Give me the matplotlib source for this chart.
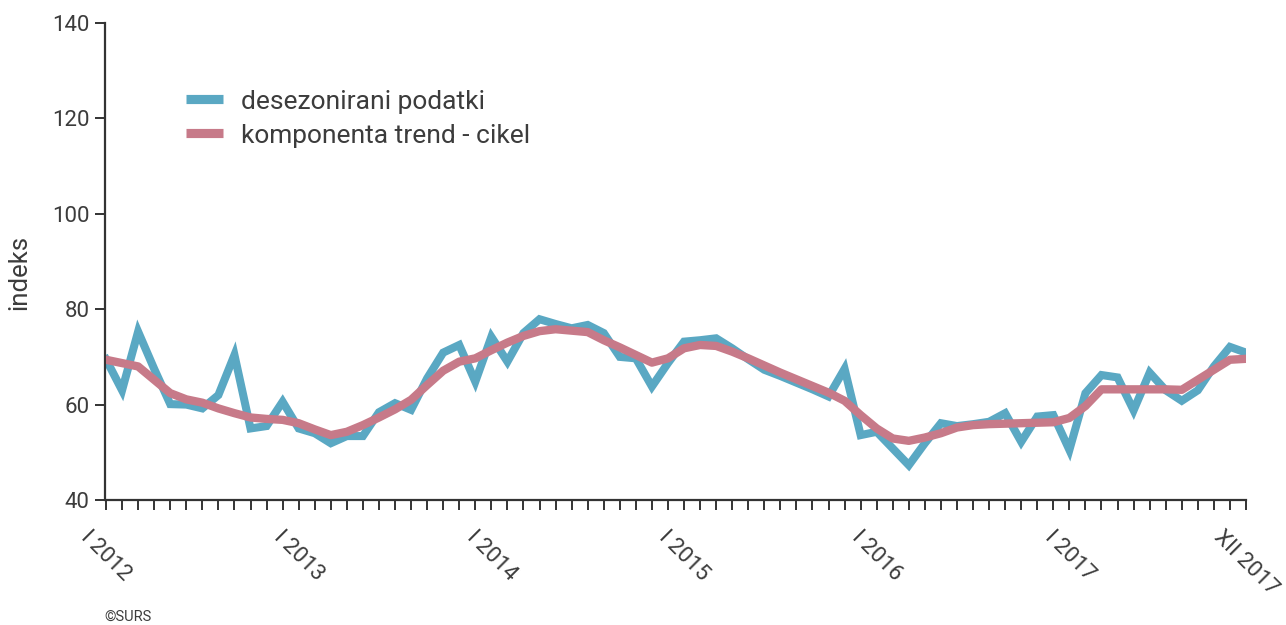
import matplotlib
matplotlib.use("Agg")
import matplotlib.pyplot as plt

plt.rcParams['font.family'] = ['Roboto', 'DejaVu Sans']

months = list(range(72))
tick_positions = [0, 12, 24, 36, 48, 60, 71]
tick_labels = ["I 2012", "I 2013", "I 2014", "I 2015", "I 2016", "I 2017", "XII 2017"]

seasonally_adjusted = [
    69.5, 63.0, 75.3, 67.5, 60.1, 60.0, 59.2, 62.0, 70.4, 55.0, 55.5, 60.6,
    55.0, 54.0, 51.9, 53.4, 53.4, 58.4, 60.3, 58.9, 65.5, 70.9, 72.5, 64.8,
    74.2, 69.0, 75.0, 77.9, 76.9, 76.0, 76.7, 75.0, 70.0, 69.7, 63.8, 68.7,
    73.2, 73.5, 73.9, 71.8, 69.5, 67.3, 66.0, 64.6, 63.2, 61.7, 67.5, 53.6,
    54.3, 50.8, 47.3, 51.9, 56.1, 55.5, 55.9, 56.4, 58.2, 52.2, 57.5, 57.8,
    50.5, 62.4, 66.2, 65.7, 58.8, 66.7, 63.0, 60.8, 63.0, 68.0, 72.1, 70.9,
]
trend_cycle = [
    69.4, 68.7, 68.0, 65.2, 62.4, 61.1, 60.4, 59.2, 58.2, 57.3, 57.0, 56.8,
    56.1, 54.8, 53.6, 54.3, 55.7, 57.3, 59.0, 61.0, 64.1, 67.1, 69.0, 69.7,
    71.4, 73.0, 74.4, 75.4, 75.8, 75.5, 75.2, 73.5, 72.0, 70.4, 68.8, 69.7,
    71.8, 72.5, 72.3, 71.1, 69.7, 68.2, 66.7, 65.3, 63.9, 62.5, 60.8, 57.8,
    55.0, 52.9, 52.4, 53.1, 54.0, 55.2, 55.7, 55.9, 56.0, 56.1, 56.2, 56.3,
    57.2, 59.7, 63.2, 63.2, 63.2, 63.2, 63.2, 63.1, 65.2, 67.3, 69.4, 69.6,
]

blue = "#5aa8c3"
red = "#c77a89"
txt = "#3c3c3c"
axc = "#333333"

fig = plt.figure(figsize=(12.86, 6.25), dpi=100)
ax = fig.add_axes([106/1286, 0.2, (1246-106)/1286, 0.7632])

ax.plot(months, seasonally_adjusted, color=blue, lw=5.8, solid_joinstyle='miter',
        label="desezonirani podatki", zorder=2)
ax.plot(months, trend_cycle, color=red, lw=6.0, solid_joinstyle='round',
        label="komponenta trend - cikel", zorder=3)

ax.set_xlim(0, 71)
ax.set_ylim(40, 140)
ax.set_yticks([40, 60, 80, 100, 120, 140])
ax.set_xticks(months, minor=True)
ax.set_xticks(tick_positions)
ax.set_xticklabels(tick_labels, rotation=-45, ha='center', va='top')

for s in ['top', 'right']:
    ax.spines[s].set_visible(False)
for s in ['left', 'bottom']:
    ax.spines[s].set_color(axc)
    ax.spines[s].set_linewidth(1.6)
ax.spines['left'].set_position(('data', -0.06))

ax.tick_params(axis='x', which='both', direction='out', length=7, width=1.4,
               color=axc, labelsize=16, labelcolor=txt, pad=12)
ax.tick_params(axis='y', direction='out', length=7, width=1.4, color=axc,
               labelsize=16, labelcolor=txt, pad=4)
ax.set_ylabel("indeks", fontsize=18.5, color=txt)
ax.yaxis.set_label_coords(-0.0655, 0.478)

leg = ax.legend(loc='upper left', bbox_to_anchor=(186/1286, 1-89.5/625),
                bbox_transform=fig.transFigure, frameon=False, fontsize=19,
                handlelength=1.4, handletextpad=0.7, labelspacing=0.38,
                borderaxespad=0, borderpad=0, labelcolor=txt)
for h in leg.get_lines():
    h.set_linewidth(6.6)
    h.set_solid_capstyle('butt')

fig.text(104/1286, 1-617/625, "©SURS", fontsize=10.5, color=txt, va='center', ha='left')

fig.savefig("out.png", dpi=100)
